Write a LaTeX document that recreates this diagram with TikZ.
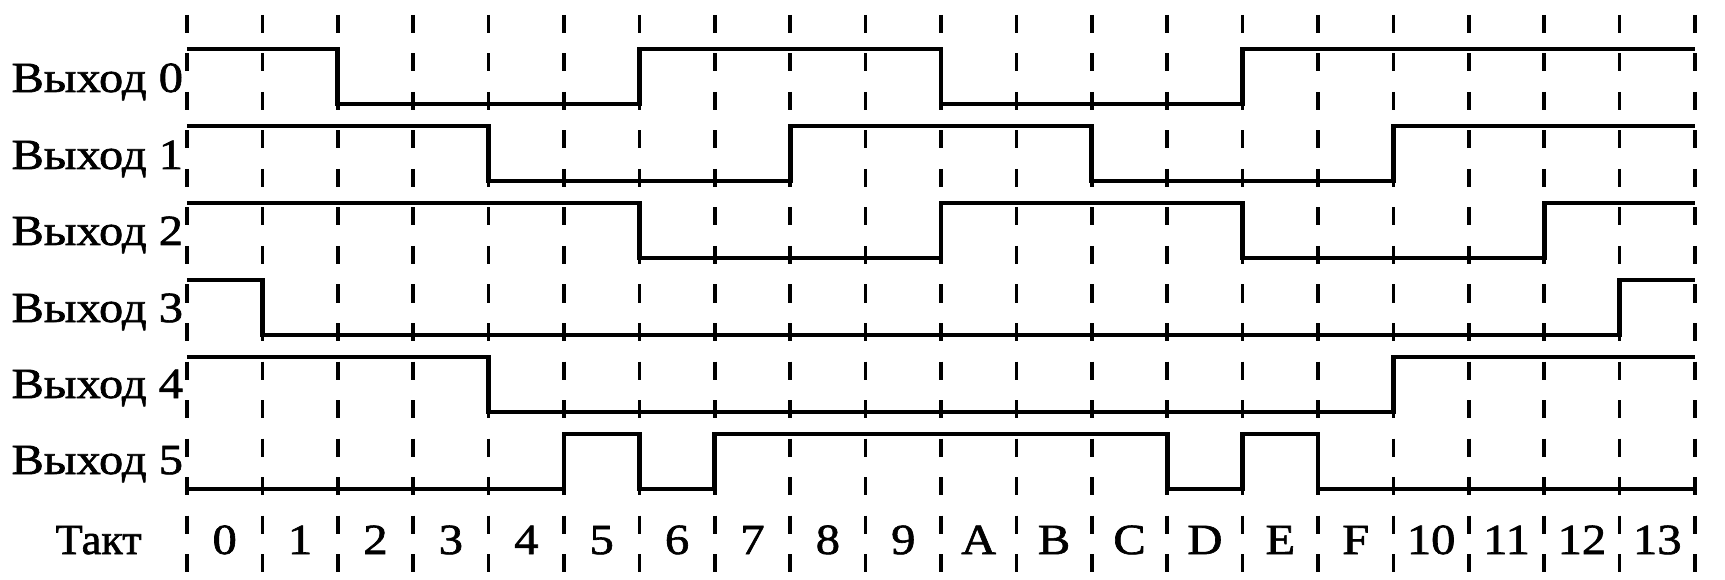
\documentclass[tikz,border=0pt]{standalone}
\usepackage{fontspec}
\setmainfont{Liberation Serif}
\newfontfamily\labfont[FakeStretch=1.13,FakeBold=1.5]{Liberation Serif}
\newfontfamily\taktfont[FakeStretch=1.03,FakeBold=1.5]{Liberation Serif}
\begin{document}
\begin{tikzpicture}[x=75.4pt, y=-1pt,
  grid/.style={line width=3.6pt, dash pattern=on 18pt off 20.5pt},
  sig/.style={line width=4.8pt, line join=miter},
  lab/.style={inner sep=0pt, anchor=base east, font=\labfont\fontsize{43}{50}\selectfont},
  tick/.style={inner sep=0pt, anchor=base, font=\labfont\fontsize{43}{50}\selectfont}]
\useasboundingbox[fill=white] (-2.4801,0) rectangle (20.3979,580);
% clock grid
\foreach \i in {0,...,20} {
  \draw[grid] (\i,15) -- (\i,580);
}
% signals
\draw[sig] (0,49) -| (2,104) -| (6,49) -| (10,104) -| (14,49) -- (20,49);
\draw[sig] (0,126) -| (4,181) -| (8,126) -| (12,181) -| (16,126) -- (20,126);
\draw[sig] (0,203) -| (6,258) -| (10,203) -| (14,258) -| (18,203) -- (20,203);
\draw[sig] (0,280) -| (1,335) -| (19,280) -- (20,280);
\draw[sig] (0,357) -| (4,412) -| (16,357) -- (20,357);
\draw[sig] (0,489) -| (5,434) -| (6,489) -| (7,434) -| (13,489) -| (14,434) -| (15,489) -- (20,489);
% labels
\node[lab] (l0) at (-0.05,92) {Выход 0};
\node[lab] (l1) at (-0.05,169) {Выход 1};
\node[lab] (l2) at (-0.05,245) {Выход 2};
\node[lab] (l3) at (-0.05,322) {Выход 3};
\node[lab] (l4) at (-0.05,398) {Выход 4};
\node[lab] (l5) at (-0.05,474) {Выход 5};
\node[lab, font=\taktfont\fontsize{43}{50}\selectfont] (takt) at (-0.6,554) {Такт};
\foreach \t [count=\k from 0] in {0,1,2,3,4,5,6,7,8,9,A,B,C,D,E,F,10,11,12,13} {
  \node[tick] (t\k) at (\k+0.5,554) {\t};
}
\end{tikzpicture}
\end{document}
